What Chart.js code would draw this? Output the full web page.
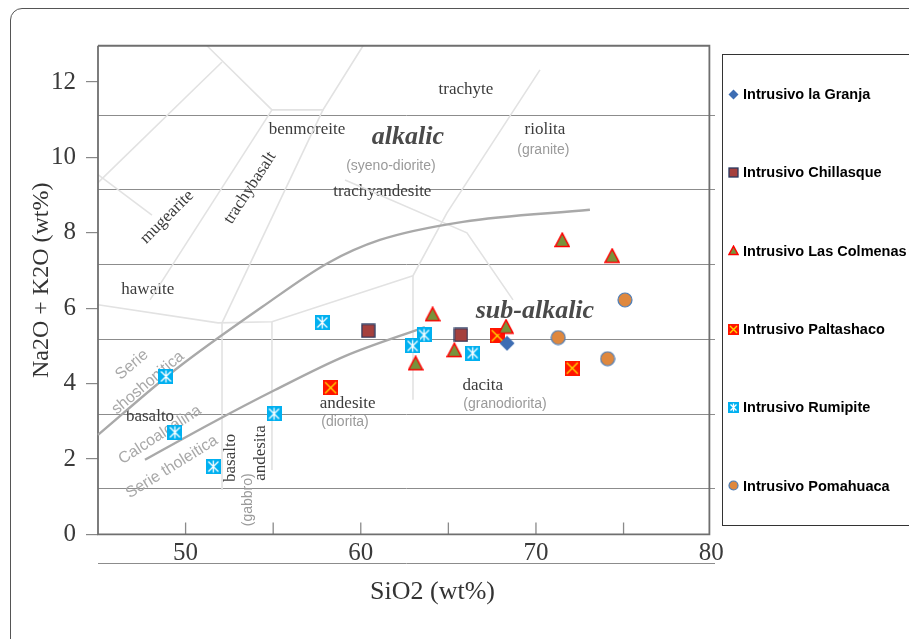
<!DOCTYPE html>
<html>
<head>
<meta charset="utf-8">
<script src="https://cdn.jsdelivr.net/npm/chart.js@4.4.1/dist/chart.umd.min.js"></script>
<style>
    html, body { margin: 0; padding: 0; background: #fff; overflow: hidden; }
    #wrap { position: relative; width: 909px; height: 639px; overflow: hidden; }
    #outer { position: absolute; left: 10px; top: 8px; width: 1000px; height: 700px; border: 1.5px solid #555; border-radius: 12px; box-sizing: border-box; }
    #tas { position: absolute; left: 0; top: 0; }
    #legend { position: absolute; left: 722px; top: 54px; width: 220px; height: 472px; border: 1.5px solid #333; box-sizing: border-box;
              display: flex; flex-direction: column; justify-content: space-around; padding-left: 5px;
              font: bold 14.5px "Liberation Sans", Arial, sans-serif; color: #000; }
    .item { display: flex; align-items: center; white-space: nowrap; }
    .item canvas { margin-right: 4px; }
</style>
</head>
<body>
<div id="wrap">
    <div id="outer"></div>
    <canvas id="tas" width="909" height="639"></canvas>
    <div id="legend"></div>
</div>
<script>
// =========================
// DATA (SiO2 wt%, Na2O+K2O wt%)
// =========================
const seriesNames = ["Intrusivo la Granja", "Intrusivo Chillasque", "Intrusivo Las Colmenas",
                     "Intrusivo Paltashaco", "Intrusivo Rumipite", "Intrusivo Pomahuaca"];

const granjaSiO2 = [68.35];
const granjaAlk  = [5.07];

const chillasqueSiO2 = [60.43, 65.72];
const chillasqueAlk  = [5.40, 5.29];

const colmenasSiO2 = [71.50, 74.35, 64.10, 63.13, 65.34, 68.29];
const colmenasAlk  = [7.81, 7.39, 5.84, 4.54, 4.89, 5.51];

const paltashacoSiO2 = [58.28, 67.79, 72.07];
const paltashacoAlk  = [3.89, 5.27, 4.41];

const rumipiteSiO2 = [57.80, 48.88, 55.05, 49.39, 51.58, 63.61, 62.96, 66.39];
const rumipiteAlk  = [5.62, 4.19, 3.20, 2.71, 1.80, 5.29, 5.00, 4.81];

const pomahuacaSiO2 = [75.08, 71.27, 74.09];
const pomahuacaAlk  = [6.22, 5.22, 4.66];

// axis ticks
const xTickValues  = [50, 60, 70, 80];
const xInnerTicks  = [50, 55, 60, 65, 70, 75];
const yTickValues  = [0, 2, 4, 6, 8, 10, 12];
const gridValues   = [0, 1, 2, 3, 4, 5, 6];

// diagram frame and field boundaries
const frameSiO2 = [45, 45, 79.9, 79.9, 45];
const frameAlk  = [12.96, 0, 0, 12.96, 12.96];

const alkalineSiO2 = [45.0, 49.39, 54.36, 58.13, 61.09, 65.83, 73.08];
const alkalineAlk  = [2.64, 4.36, 6.03, 7.20, 7.81, 8.29, 8.61];

const tholeiiticSiO2 = [47.68, 51.39, 55.10, 59.10, 63.66];
const tholeiiticAlk  = [1.98, 2.93, 3.83, 4.73, 5.50];

const fieldLines = [
    { sio2: [45.0, 52.08], alk: [9.33, 12.53] },
    { sio2: [51.22, 54.93, 57.84, 60.13], alk: [12.96, 11.26, 11.26, 12.96] },
    { sio2: [45.0, 48.08], alk: [9.54, 8.47] },
    { sio2: [54.93, 47.97], alk: [11.26, 6.22] },
    { sio2: [57.84, 52.08], alk: [11.26, 5.61] },
    { sio2: [45.0, 51.85, 54.93, 62.98], alk: [6.09, 5.61, 5.64, 6.86] },
    { sio2: [52.08, 52.08], alk: [5.61, 1.18] },
    { sio2: [54.93, 54.93], alk: [5.64, 1.71] },
    { sio2: [70.23, 64.92, 62.98, 62.98], alk: [12.32, 8.53, 6.86, 3.57] },
    { sio2: [59.10, 66.06, 68.69], alk: [9.40, 8.00, 6.22] }
];

const fieldLabels = [
    { text: "trachyte", x: 66.00, y: 11.79, angle: 0, kind: "rock" },
    { text: "benmoreite", x: 56.93, y: 10.73, angle: 0, kind: "rock" },
    { text: "alkalic", x: 62.69, y: 10.54, angle: 0, kind: "big" },
    { text: "(syeno-diorite)", x: 61.72, y: 9.76, angle: 0, kind: "plut" },
    { text: "trachyandesite", x: 61.23, y: 9.09, angle: 0, kind: "rock" },
    { text: "riolita", x: 70.51, y: 10.73, angle: 0, kind: "rock" },
    { text: "(granite)", x: 70.42, y: 10.20, angle: 0, kind: "plut" },
    { text: "mugearite", x: 48.94, y: 8.42, angle: -45, kind: "rock" },
    { text: "trachybasalt", x: 53.68, y: 9.19, angle: -57, kind: "rock" },
    { text: "hawaite", x: 47.84, y: 6.50, angle: 0, kind: "rock" },
    { text: "sub-alkalic", x: 69.94, y: 5.91, angle: 0, kind: "big" },
    { text: "andesite", x: 59.25, y: 3.48, angle: 0, kind: "rock" },
    { text: "(diorita)", x: 59.10, y: 2.97, angle: 0, kind: "plut" },
    { text: "dacita", x: 66.96, y: 3.94, angle: 0, kind: "rock" },
    { text: "(granodiorita)", x: 68.23, y: 3.46, angle: 0, kind: "plut" },
    { text: "basalto", x: 47.97, y: 3.14, angle: 0, kind: "rock" },
    { text: "basalto", x: 52.59, y: 2.03, angle: -90, kind: "rock" },
    { text: "(gabbro)", x: 53.56, y: 0.92, angle: -90, kind: "plut" },
    { text: "andesita", x: 54.25, y: 2.16, angle: -90, kind: "rock" },
    { text: "Serie", x: 46.94, y: 4.50, angle: -40, kind: "serie" },
    { text: "shoshonitica", x: 47.85, y: 4.02, angle: -40, kind: "serie" },
    { text: "Calcoalcalina", x: 48.54, y: 2.64, angle: -33, kind: "serie" },
    { text: "Serie tholeitica", x: 49.22, y: 1.79, angle: -32, kind: "serie" }
];

// =========================
// STYLES
// =========================
const labelStyles = {
    rock:  { font: "17px 'Liberation Serif'", color: "#3c3c3c" },
    plut:  { font: "14px 'Liberation Sans'", color: "#9a9a9a" },
    big:   { font: "italic bold 26px 'Liberation Serif'", color: "#4a4a4a" },
    serie: { font: "16px 'Liberation Sans'", color: "#a8a8a8" }
};

const markerKinds = ["diamond", "square", "triangle", "cross", "star", "circle"];
const markerSizes = { diamond: 16, square: 15, triangle: 16, cross: 15, star: 15, circle: 16 };

function makeMarker(kind, s) {
    const c = document.createElement("canvas");
    c.width = s; c.height = s;
    const g = c.getContext("2d");
    g.lineJoin = "miter";
    if (kind === "diamond") {
        g.fillStyle = "#3d6db3";
        g.beginPath();
        g.moveTo(s / 2, 0.5); g.lineTo(s - 0.5, s / 2); g.lineTo(s / 2, s - 0.5); g.lineTo(0.5, s / 2);
        g.closePath(); g.fill();
    } else if (kind === "square") {
        g.fillStyle = "#a5403d";
        g.fillRect(1, 1, s - 2, s - 2);
        g.strokeStyle = "#28385f"; g.lineWidth = 1.3;
        g.strokeRect(1, 1, s - 2, s - 2);
    } else if (kind === "triangle") {
        g.fillStyle = "#77933c";
        g.strokeStyle = "#ff0000"; g.lineWidth = 1.5;
        g.beginPath();
        g.moveTo(s / 2, 1.2); g.lineTo(s - 1, s - 1.5); g.lineTo(1, s - 1.5);
        g.closePath(); g.fill(); g.stroke();
    } else if (kind === "cross") {
        g.fillStyle = "#ff1400";
        g.fillRect(0, 0, s, s);
        g.strokeStyle = "#ffd800"; g.lineWidth = 1.4;
        g.beginPath();
        g.moveTo(2, 2); g.lineTo(s - 2, s - 2);
        g.moveTo(s - 2, 2); g.lineTo(2, s - 2);
        g.stroke();
    } else if (kind === "star") {
        g.fillStyle = "#00b0f0";
        g.fillRect(0, 0, s, s);
        g.strokeStyle = "#ffffff"; g.lineWidth = 1.3;
        g.beginPath();
        g.moveTo(2.5, 2.5); g.lineTo(s - 2.5, s - 2.5);
        g.moveTo(s - 2.5, 2.5); g.lineTo(2.5, s - 2.5);
        g.moveTo(s / 2, 1.5); g.lineTo(s / 2, s - 1.5);
        g.stroke();
    } else {
        g.fillStyle = "#df883e";
        g.strokeStyle = "#4a7ebb"; g.lineWidth = 1.2;
        g.beginPath();
        g.arc(s / 2, s / 2, s / 2 - 1, 0, Math.PI * 2);
        g.fill(); g.stroke();
    }
    return c;
}

function toPoints(xs, ys) {
    return xs.map((x, i) => ({ x: x, y: ys[i] }));
}

// =========================
// DATASETS
// =========================
const seriesData = [
    [granjaSiO2, granjaAlk],
    [chillasqueSiO2, chillasqueAlk],
    [colmenasSiO2, colmenasAlk],
    [paltashacoSiO2, paltashacoAlk],
    [rumipiteSiO2, rumipiteAlk],
    [pomahuacaSiO2, pomahuacaAlk]
];

const datasets = seriesData.map((d, i) => ({
    label: seriesNames[i],
    data: toPoints(d[0], d[1]),
    pointStyle: makeMarker(markerKinds[i], markerSizes[markerKinds[i]]),
    pointRadius: 8,
    pointHoverRadius: 8,
    showLine: false,
    order: 0
}));

fieldLines.forEach(f => {
    datasets.push({
        label: "field", isField: true,
        data: toPoints(f.sio2, f.alk),
        showLine: true, pointRadius: 0, pointHoverRadius: 0,
        borderColor: "#e2e2e2", borderWidth: 1.6,
        clip: false, order: 2
    });
});

[[alkalineSiO2, alkalineAlk], [tholeiiticSiO2, tholeiiticAlk]].forEach(c => {
    datasets.push({
        label: "field", isField: true,
        data: toPoints(c[0], c[1]),
        showLine: true, pointRadius: 0, pointHoverRadius: 0,
        borderColor: "#a9a9a9", borderWidth: 2.4,
        tension: 0.4, cubicInterpolationMode: "monotone",
        clip: false, order: 1
    });
});

datasets.push({
    label: "field", isField: true,
    data: toPoints(frameSiO2, frameAlk),
    showLine: true, pointRadius: 0, pointHoverRadius: 0,
    borderColor: "#6f6f6f", borderWidth: 1.8,
    clip: false, order: 1
});

// =========================
// PLUGINS
// =========================
const fieldLabelPlugin = {
    id: "fieldLabels",
    beforeDatasetsDraw(chart) {
        const { ctx, scales: { x, y } } = chart;
        fieldLabels.forEach(l => {
            const st = labelStyles[l.kind];
            ctx.save();
            ctx.translate(x.getPixelForValue(l.x), y.getPixelForValue(l.y));
            ctx.rotate(l.angle * Math.PI / 180);
            ctx.font = st.font;
            ctx.fillStyle = st.color;
            ctx.textAlign = "center";
            ctx.textBaseline = "middle";
            ctx.fillText(l.text, 0, 0);
            ctx.restore();
        });
        // inner tick marks on the SiO2 axis
        const base = y.getPixelForValue(0);
        ctx.save();
        ctx.strokeStyle = "#8a8a8a";
        ctx.lineWidth = 1.3;
        ctx.beginPath();
        xInnerTicks.forEach(v => {
            const px = x.getPixelForValue(v);
            ctx.moveTo(px, base);
            ctx.lineTo(px, base - 12);
        });
        ctx.stroke();
        ctx.restore();
    }
};

// =========================
// CHART
// =========================
const serif = "'Liberation Serif', 'Times New Roman', serif";

const chart = new Chart(document.getElementById("tas"), {
    type: "scatter",
    data: { datasets: datasets },
    options: {
        responsive: false,
        animation: false,
        devicePixelRatio: 1,
        layout: { padding: { left: 0, right: 194, top: 45, bottom: 75.5 } },
        plugins: {
            legend: { display: false },
            tooltip: { enabled: false }
        },
        scales: {
            x: {
                type: "linear",
                min: 45,
                max: 80.22,
                position: { y: 0 },
                afterBuildTicks: s => { s.ticks = xTickValues.map(v => ({ value: v })); },
                afterFit: s => { s.height = 75; },
                grid: { drawOnChartArea: false, drawTicks: false },
                border: { display: false },
                ticks: { font: { family: serif, size: 25 }, color: "#3a3a3a", padding: 4, maxRotation: 0, autoSkip: false },
                title: {
                    display: true,
                    text: "        SiO2 (wt%)",
                    font: { family: serif, size: 26 },
                    color: "#333",
                    padding: { top: 0, bottom: 2 }
                }
            },
            y: {
                type: "linear",
                position: "left",
                min: -0.77,
                max: 12.98,
                afterBuildTicks: s => { s.ticks = yTickValues.map(v => ({ value: v })); },
                afterFit: s => { s.width = 98; },
                grid: { drawOnChartArea: false, drawTicks: true, tickLength: 12, color: "#888", lineWidth: 1.2 },
                border: { display: false },
                ticks: { font: { family: serif, size: 25 }, color: "#3a3a3a", padding: 10 },
                title: {
                    display: true,
                    text: "        Na2O + K2O (wt%)",
                    font: { family: serif, size: 24 },
                    color: "#333",
                    padding: { top: 27, bottom: 0 }
                }
            },
            y2: {
                type: "linear",
                position: { x: 80.22 },
                min: 0,
                max: 6.94,
                afterBuildTicks: s => { s.ticks = gridValues.map(v => ({ value: v })); },
                grid: { color: "#8c8c8c", lineWidth: 1, drawTicks: false },
                border: { display: false },
                ticks: { display: false }
            }
        }
    },
    plugins: [fieldLabelPlugin]
});

// =========================
// HTML LEGEND
// =========================
const legendBox = document.getElementById("legend");
chart.data.datasets.filter(ds => !ds.isField).forEach((ds, i) => {
    const item = document.createElement("div");
    item.className = "item";
    item.appendChild(makeMarker(markerKinds[i], 11));
    const span = document.createElement("span");
    span.textContent = ds.label;
    item.appendChild(span);
    legendBox.appendChild(item);
});
</script>
</body>
</html>
